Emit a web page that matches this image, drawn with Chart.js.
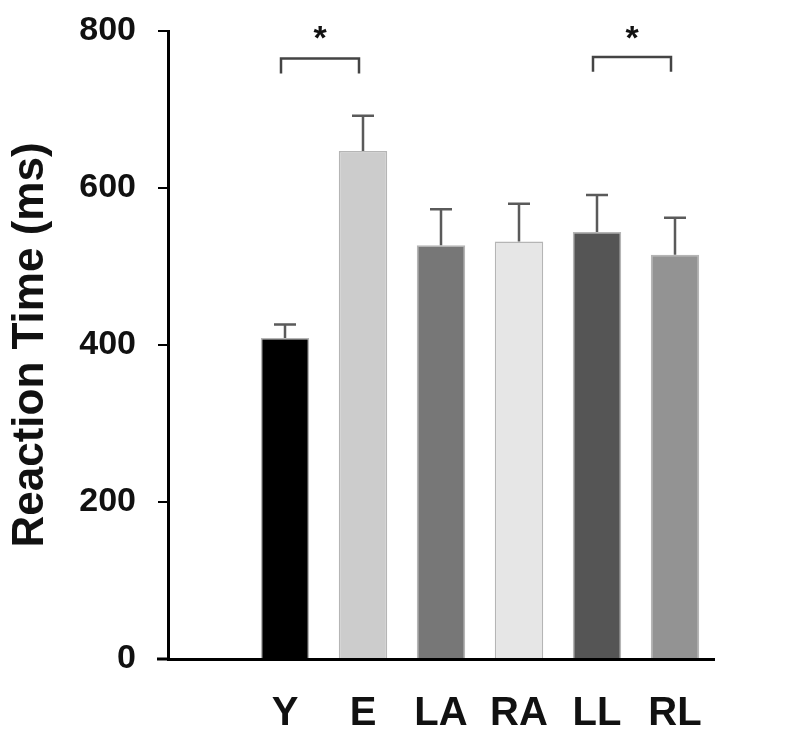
<!DOCTYPE html>
<html>
<head>
<meta charset="utf-8">
<script src="https://cdn.jsdelivr.net/npm/chart.js@4/dist/chart.umd.min.js"></script>
<style>
  html, body { margin: 0; padding: 0; background: #fff; }
  #wrap { width: 792px; height: 738px; }
</style>
</head>
<body>
<div id="wrap"><canvas id="myChart" width="792" height="738"></canvas></div>
<script>
// data (first slot is empty space left of Y)
const categories = ['', 'Y', 'E', 'LA', 'RA', 'LL', 'RL'];
const meanRT = [null, 409, 647, 527, 532, 544, 515];
const errRT = [null, 17, 45, 46, 48, 47, 47];
const barColors = ['#fff', '#000000', '#cccccc', '#777777', '#e6e6e6', '#555555', '#939393'];
const yTicks = [0, 200, 400, 600, 800];
// significance brackets: [from, to, bracket value, leg end value]
const sigPairs = [['Y', 'E', 765, 746], ['LL', 'RL', 767, 748]];

const FONT = '"Liberation Sans", Arial, sans-serif';

// draws error bars, brackets and stars, plus the little stub of x axis left of the y axis
const extras = {
  id: 'extras',
  afterDatasetsDraw(chart) {
    const ctx = chart.ctx;
    const x = chart.scales.x, y = chart.scales.y;
    ctx.save();
    // error bars
    ctx.strokeStyle = '#5a5a5a';
    ctx.lineWidth = 2.5;
    meanRT.forEach((v, i) => {
      if (v == null) return;
      const cx = x.getPixelForValue(i);
      const y0 = y.getPixelForValue(v);
      const y1 = y.getPixelForValue(v + errRT[i]);
      ctx.beginPath();
      ctx.moveTo(cx, y0);
      ctx.lineTo(cx, y1);
      ctx.moveTo(cx - 11, y1);
      ctx.lineTo(cx + 11, y1);
      ctx.stroke();
    });
    // brackets
    ctx.strokeStyle = '#444';
    ctx.lineWidth = 2.5;
    ctx.fillStyle = '#111';
    ctx.font = 'bold 34px ' + FONT;
    ctx.textAlign = 'center';
    ctx.textBaseline = 'middle';
    sigPairs.forEach(([a, b, top, leg]) => {
      const xa = x.getPixelForValue(categories.indexOf(a)) - 4;
      const xb = x.getPixelForValue(categories.indexOf(b)) - 4;
      const yt = y.getPixelForValue(top);
      const yl = y.getPixelForValue(leg);
      ctx.beginPath();
      ctx.moveTo(xa, yl);
      ctx.lineTo(xa, yt);
      ctx.lineTo(xb, yt);
      ctx.lineTo(xb, yl);
      ctx.stroke();
      ctx.fillText('*', (xa + xb) / 2, y.getPixelForValue(800) + 9);
    });
    // x axis stub to the left of the y axis
    ctx.strokeStyle = '#000';
    ctx.lineWidth = 3;
    ctx.beginPath();
    ctx.moveTo(chart.chartArea.left - 11, chart.chartArea.bottom);
    ctx.lineTo(chart.chartArea.left, chart.chartArea.bottom);
    ctx.stroke();
    ctx.restore();
  }
};

new Chart(document.getElementById('myChart').getContext('2d'), {
  type: 'bar',
  data: {
    labels: categories,
    datasets: [{
      label: 'Reaction Time',
      data: meanRT,
      backgroundColor: barColors,
      borderColor: 'rgba(150,150,150,0.7)',
      borderWidth: 1.5,
      categoryPercentage: 1,
      barPercentage: 0.62
    }]
  },
  options: {
    responsive: false,
    animation: false,
    layout: { padding: { top: 31, right: 78, left: 0, bottom: 0 } },
    plugins: {
      legend: { display: false },
      tooltip: { enabled: false }
    },
    scales: {
      x: {
        grid: { display: false, drawTicks: false },
        border: { display: true, color: '#000', width: 3 },
        ticks: {
          color: '#111',
          padding: 31,
          font: { family: FONT, size: 40, weight: 'bold' }
        },
        afterFit(scale) { scale.height = 79; }
      },
      y: {
        min: 0,
        max: 800,
        afterBuildTicks(scale) { scale.ticks = yTicks.map(v => ({ value: v })); },
        grid: { drawOnChartArea: false, drawTicks: true, tickLength: 10, color: '#000', lineWidth: 2 },
        border: { display: true, color: '#000', width: 3 },
        ticks: {
          color: '#111',
          padding: 22,
          font: { family: FONT, size: 34, weight: 'bold' }
        },
        title: {
          display: true,
          text: 'Reaction Time (ms)',
          color: '#111',
          padding: { top: 4, bottom: 0 },
          font: { family: FONT, size: 44, weight: 'bold' }
        },
        afterFit(scale) {
          scale.width = 168;
          scale.paddingTop = 0;
          scale.paddingBottom = 0;
        }
      }
    }
  },
  plugins: [extras]
});
</script>
</body>
</html>
